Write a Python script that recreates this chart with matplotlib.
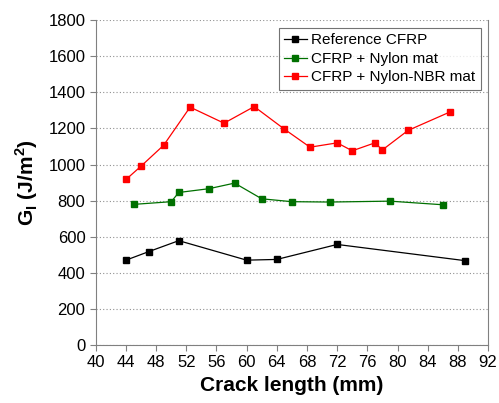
import matplotlib
matplotlib.use("Agg")
import matplotlib.pyplot as plt

plt.rcParams['font.family'] = ['Liberation Sans', 'DejaVu Sans']

# crack length (mm) and G_I (J/m^2)
ref_x = [44, 47, 51, 60, 64, 72, 89]
ref_y = [470, 517, 578, 470, 474, 557, 467]

nylon_x = [45, 50, 51, 55, 58.4, 62, 66, 71, 79, 86]
nylon_y = [779, 794, 845, 866, 897, 810, 794, 792, 797, 777]

nbr_x = [44, 46, 49, 52.5, 57, 61, 65, 68.4, 72, 74, 77, 78, 81.4, 87]
nbr_y = [917, 991, 1107, 1318, 1229, 1321, 1196, 1096, 1120, 1076, 1120, 1081, 1189, 1292]

labels = ['Reference CFRP', 'CFRP + Nylon mat', 'CFRP + Nylon-NBR mat']

fig = plt.figure(figsize=(4.99, 4.03), dpi=100)
ax = fig.add_axes([0.192, 0.144, 0.786, 0.806])

ax.plot(ref_x, ref_y, '-s', color='black', lw=0.9, ms=5, label=labels[0])
ax.plot(nylon_x, nylon_y, '-s', color='#007000', mfc='#007000', lw=0.9, ms=5, label=labels[1])
ax.plot(nbr_x, nbr_y, '-s', color='red', lw=0.9, ms=5, label=labels[2])

ax.set_xlim(40, 92)
ax.set_ylim(0, 1800)
ax.set_xticks(range(40, 93, 4))
ax.set_yticks(range(0, 1801, 200))
ax.yaxis.grid(True, linestyle=(0, (1, 2)), color='#909090', lw=0.8)
ax.set_axisbelow(True)

for s in ['left', 'bottom', 'right']:
    ax.spines[s].set_color('#808080')
ax.spines['top'].set_visible(False)
ax.tick_params(axis='both', direction='out', color='#808080', labelsize=12, length=4)

ax.set_xlabel('Crack length (mm)', fontsize=15, fontweight='bold', labelpad=4)
ax.set_ylabel(r'G$_\mathregular{I}$ (J/m$^\mathregular{2}$)', fontsize=15, fontweight='bold', labelpad=6)

leg = ax.legend(loc='upper right', bbox_to_anchor=(0.982, 0.976), fontsize=11, frameon=True,
                fancybox=False, edgecolor='#505050', handlelength=1.5, handletextpad=0.3,
                borderpad=0.35, labelspacing=0.3, borderaxespad=0)
leg.get_frame().set_linewidth(0.8)

fig.savefig('out.png', dpi=100)
